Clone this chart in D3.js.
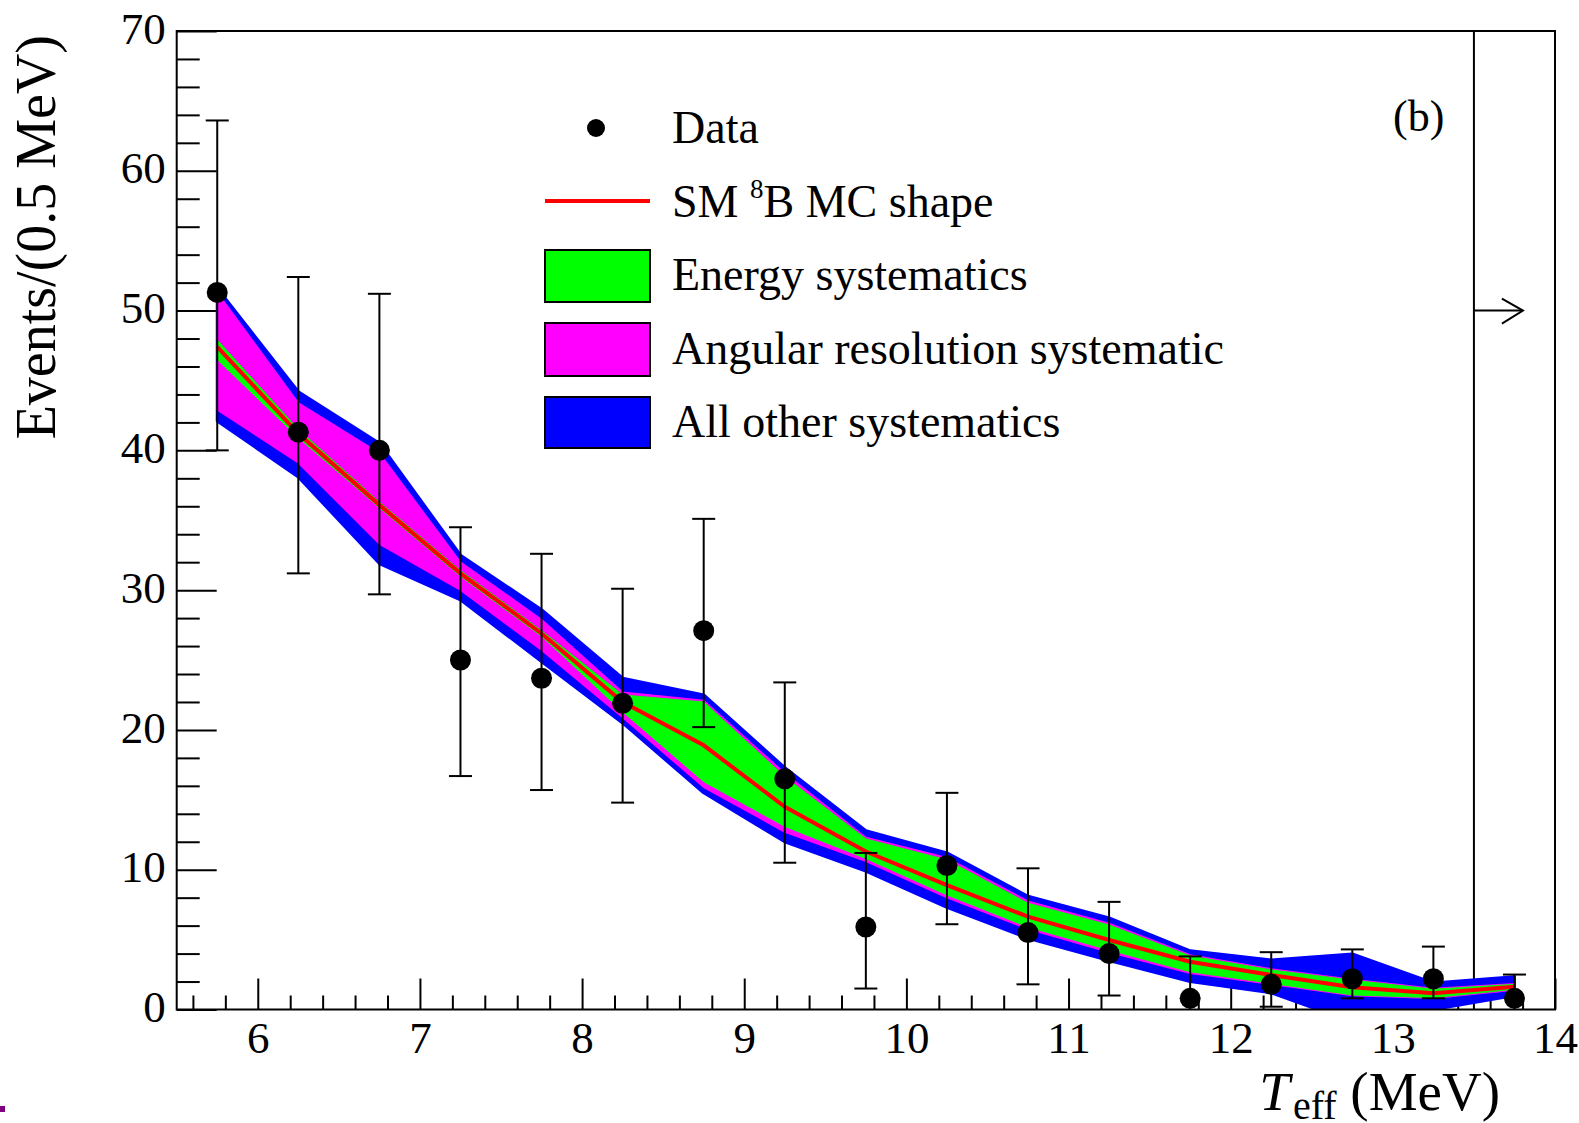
<!DOCTYPE html>
<html><head><meta charset="utf-8">
<script src="https://cdn.jsdelivr.net/npm/d3@7"></script>
<style>html,body{margin:0;padding:0;background:#fff;} svg{display:block;}</style>
</head><body>
<svg id="chart" width="1579" height="1123"></svg>
<script>
// ---------------- data ----------------
const binCenters  = [5.75, 6.25, 6.75, 7.25, 7.75, 8.25, 8.75, 9.25, 9.75, 10.25, 10.75, 11.25, 11.75, 12.25, 12.75, 13.25, 13.75];
const dataEvents  = [51.3, 41.3, 40.0, 25.0, 23.7, 21.9, 27.1, 16.5, 5.9, 10.3, 5.5, 4.0, 0.8, 1.8, 2.2, 2.2, 0.8];
const dataErrTop  = [63.6, 52.4, 51.2, 34.5, 32.6, 30.1, 35.1, 23.4, 11.2, 15.5, 10.1, 7.7, 3.8, 4.1, 4.3, 4.5, 2.5];
const dataErrBot  = [40.0, 31.2, 29.7, 16.7, 15.7, 14.8, 20.2, 10.5, 1.5, 6.1, 1.8, 1.0, 0.0, 0.2, 0.8, 0.8, 0.0];
const mcShape     = [47.4, 41.2, 36.1, 31.2, 26.9, 22.0, 18.9, 14.5, 11.3, 8.9, 6.64, 4.97, 3.42, 2.47, 1.59, 1.16, 1.63];
const energyHi    = [47.9, 41.5, 36.3, 31.4, 27.1, 22.5, 22.0, 16.65, 12.2, 10.7, 7.6, 6.04, 3.83, 2.83, 2.1, 1.45, 1.8];
const energyLo    = [46.5, 40.9, 35.9, 31.0, 26.7, 21.3, 16.3, 13.1, 10.8, 8.2, 5.9, 4.26, 2.7, 1.87, 1.04, 0.85, 1.45];
const angularHi   = [51.3, 43.4, 39.8, 32.0, 27.9, 22.7, 22.1, 16.9, 12.3, 10.85, 7.75, 6.15, 3.9, 2.9, 2.15, 1.5, 1.85];
const angularLo   = [42.9, 39.1, 33.3, 30.0, 25.7, 20.9, 15.9, 12.7, 10.6, 8.0, 5.75, 4.1, 2.6, 1.8, 1.0, 0.8, 1.4];
const otherHi     = [51.6, 44.2, 40.5, 32.5, 28.6, 23.7, 22.5, 17.3, 12.8, 11.2, 8.1, 6.55, 4.2, 3.55, 3.97, 1.9, 2.35];
const otherLo     = [42.1, 38.1, 31.9, 29.3, 24.9, 20.5, 15.5, 12.0, 9.9, 7.3, 5.1, 3.5, 2.0, 1.2, -0.9, 0.0, 1.0];
const xTickLabels = [6, 7, 8, 9, 10, 11, 12, 13, 14];
const yTickLabels = [0, 10, 20, 30, 40, 50, 60, 70];
const legendLabels = ["Data", "SM 8B MC shape", "Energy systematics", "Angular resolution systematic", "All other systematics"];
const thresholdX = 13.5;
const arrowY = 50;

// ---------------- layout ----------------
const W = 1579, H = 1123;
const L = 176.7, R = 1555, T = 31, B = 1009.5;
const serif = "'Liberation Serif','Times New Roman',Times,serif";

const svg = d3.select("#chart");
svg.append("rect").attr("width", W).attr("height", H).attr("fill", "#fff");

const x = d3.scaleLinear().domain([5.5, 14]).range([L, R]);
const y = d3.scaleLinear().domain([0, 70]).range([B, T]);

svg.append("defs").append("clipPath").attr("id", "frameClip")
  .append("rect").attr("x", L).attr("y", T).attr("width", R - L).attr("height", B - T);

// minor ticks
const xMinor = d3.range(5.6, 14.0001, 0.2).filter(v => Math.abs(v - Math.round(v)) > 1e-6);
const yMinor = d3.range(2, 70, 2).filter(v => v % 10 !== 0);

const gx = svg.append("g").attr("transform", `translate(0,${B})`);
gx.call(d3.axisBottom(x).tickValues(xMinor).tickSizeInner(-14).tickSizeOuter(0).tickFormat(""));
gx.append("g").call(d3.axisBottom(x).tickValues(xTickLabels).tickSizeInner(-31).tickSizeOuter(0).tickPadding(12).tickFormat(d3.format("d")));
const gy = svg.append("g").attr("transform", `translate(${L},0)`);
gy.call(d3.axisLeft(y).tickValues(yMinor).tickSizeInner(-23).tickSizeOuter(0).tickFormat(""));
gy.append("g").call(d3.axisLeft(y).tickValues(yTickLabels).tickSizeInner(-40).tickSizeOuter(0).tickPadding(11).tickFormat(d3.format("d")));
svg.selectAll(".domain").remove();
svg.selectAll(".tick line").attr("stroke", "#000").attr("stroke-width", 2);
gx.selectAll("text").attr("font-family", serif).attr("font-size", 45).attr("fill", "#000");
gy.selectAll("text").attr("font-family", serif).attr("font-size", 45).attr("fill", "#000").attr("dy", "0.27em");

// threshold vertical line (beneath bands)
svg.append("line").attr("x1", x(thresholdX)).attr("x2", x(thresholdX)).attr("y1", T).attr("y2", B)
  .attr("stroke", "#000").attr("stroke-width", 2);

// bands
const pts = binCenters.map((c, i) => ({c, i}));
const plot = svg.append("g").attr("clip-path", "url(#frameClip)");
function band(hi, lo, color, sw) {
  const area = d3.area().x(d => x(d.c)).y0(d => y(lo[d.i])).y1(d => y(hi[d.i]));
  plot.append("path").attr("d", area(pts)).attr("fill", color).attr("stroke", color)
    .attr("stroke-width", sw).attr("stroke-linejoin", "round");
}
band(otherHi, otherLo, "#0000ff", 3);
band(angularHi, angularLo, "#ff00ff", 1.5);
band(energyHi, energyLo, "#00ff00", 1);
plot.append("path").attr("d", d3.line().x(d => x(d.c)).y(d => y(mcShape[d.i]))(pts))
  .attr("fill", "none").attr("stroke", "#ff0000").attr("stroke-width", 4);

// data error bars + markers
const eb = svg.append("g").attr("stroke", "#000").attr("stroke-width", 2);
pts.forEach(d => {
  const cx = x(d.c);
  eb.append("line").attr("x1", cx).attr("x2", cx).attr("y1", y(dataErrTop[d.i])).attr("y2", y(dataErrBot[d.i]));
  eb.append("line").attr("x1", cx - 11.5).attr("x2", cx + 11.5).attr("y1", y(dataErrTop[d.i])).attr("y2", y(dataErrTop[d.i]));
  if (dataErrBot[d.i] > 0.05)
    eb.append("line").attr("x1", cx - 11.5).attr("x2", cx + 11.5).attr("y1", y(dataErrBot[d.i])).attr("y2", y(dataErrBot[d.i]));
});
svg.append("g").selectAll("circle").data(pts).join("circle")
  .attr("cx", d => x(d.c)).attr("cy", d => y(dataEvents[d.i])).attr("r", 10.5).attr("fill", "#000");

// frame
svg.append("rect").attr("x", L).attr("y", T).attr("width", R - L).attr("height", B - T)
  .attr("fill", "none").attr("stroke", "#000").attr("stroke-width", 2);

// arrow
const ax0 = x(thresholdX), ay = y(arrowY);
svg.append("line").attr("x1", ax0).attr("x2", ax0 + 49).attr("y1", ay).attr("y2", ay).attr("stroke", "#000").attr("stroke-width", 2);
svg.append("path").attr("d", `M${ax0 + 28},${ay - 12} L${ax0 + 49},${ay} L${ax0 + 28},${ay + 13}`)
  .attr("fill", "none").attr("stroke", "#000").attr("stroke-width", 2);

// axis titles
svg.append("text").attr("transform", "translate(55,35) rotate(-90)").attr("text-anchor", "end")
  .attr("font-family", serif).attr("font-size", 56).attr("fill", "#000").text("Events/(0.5 MeV)");
const xt = svg.append("text").attr("x", 1500).attr("y", 1110).attr("text-anchor", "end")
  .attr("font-family", serif).attr("font-size", 55).attr("fill", "#000");
xt.append("tspan").attr("font-style", "italic").text("T");
xt.append("tspan").attr("font-size", 40).attr("dy", 9).attr("dx", 3).text("eff");
xt.append("tspan").attr("dy", -9).text(" (MeV)");

// panel label
svg.append("text").attr("x", 1393).attr("y", 131).attr("font-family", serif).attr("font-size", 44).attr("fill", "#000").text("(b)");

// legend
const lg = svg.append("g");
const tx = 672;
const baselines = [143, 217, 290, 364, 437];
lg.append("circle").attr("cx", 596).attr("cy", 128).attr("r", 9).attr("fill", "#000");
lg.append("line").attr("x1", 545).attr("x2", 650).attr("y1", 201).attr("y2", 201).attr("stroke", "#ff0000").attr("stroke-width", 4);
[["#00ff00", 250, 52], ["#ff00ff", 323, 53], ["#0000ff", 397, 51]].forEach(([c, yy, hh]) => {
  lg.append("rect").attr("x", 545).attr("y", yy).attr("width", 105).attr("height", hh)
    .attr("fill", c).attr("stroke", "#000").attr("stroke-width", 2);
});
legendLabels.forEach((t, i) => {
  const te = lg.append("text").attr("x", tx).attr("y", baselines[i]).attr("font-family", serif).attr("font-size", 46).attr("fill", "#000");
  if (i === 1) {
    te.append("tspan").text("SM ");
    te.append("tspan").attr("font-size", 27).attr("dy", -19).text("8");
    te.append("tspan").attr("dy", 19).text("B MC shape");
  } else te.text(t);
});

// small mark bottom-left
svg.append("rect").attr("x", 0).attr("y", 1106).attr("width", 5).attr("height", 6).attr("fill", "#800080");
</script>
</body></html>
